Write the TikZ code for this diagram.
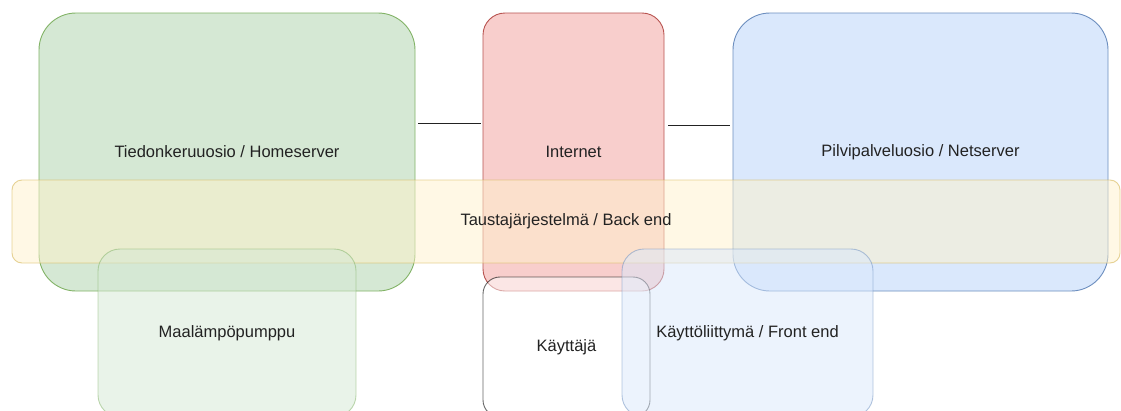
\documentclass[tikz,border=0pt]{standalone}
\usepackage{fontspec}
\setmainfont{Liberation Sans}
\definecolor{gfill}{HTML}{D5E8D4}
\definecolor{gline}{HTML}{82B366}
\definecolor{rfill}{HTML}{F8CECC}
\definecolor{rline}{HTML}{B85450}
\definecolor{bfill}{HTML}{DAE8FC}
\definecolor{bline}{HTML}{6C8EBF}
\definecolor{yfill}{HTML}{FFF2CC}
\definecolor{yline}{HTML}{D6B656}
\definecolor{txt}{HTML}{222222}
\tikzset{
  box/.style={draw, rectangle, line width=0.9pt, inner sep=0pt, text=txt,
    font=\fontsize{16.5}{19}\selectfont},
}
\begin{document}
\begin{tikzpicture}[x=1pt,y=1pt]
\useasboundingbox (0,0) rectangle (1121,-410);
\fill[white] (0,0) rectangle (1121,-410);
\node[box, fill=gfill, draw=gline, rounded corners=37pt, minimum width=376pt, minimum height=278pt] (green) at (227,-152) {Tiedonkeruuosio / Homeserver};
\node[box, fill=rfill, draw=rline, rounded corners=22pt, minimum width=181pt, minimum height=278pt] (red) at (573.5,-152) {Internet};
\node[box, fill=bfill, draw=bline, rounded corners=37pt, minimum width=375pt, minimum height=278pt] (blue) at (920.5,-152) {Pilvipalveluosio / Netserver};
\node[box, fill=yfill, draw=yline, fill opacity=0.5, draw opacity=0.6, text opacity=1, rounded corners=10pt, minimum width=1108pt, minimum height=83pt] (back) at (566,-221.5) {Taustajärjestelmä / Back end};
\node[box, fill=gfill, draw=gline, fill opacity=0.5, draw opacity=0.5, text opacity=1, rounded corners=22pt, minimum width=258pt, minimum height=168pt] (pump) at (227,-333) {Maalämpöpumppu};
\node[box, fill=white, draw=black, fill opacity=0.5, draw opacity=0.6, text opacity=1, rounded corners=17pt, minimum width=167pt, minimum height=140pt] (user) at (566.5,-347) {Käyttäjä};
\node[box, fill=bfill, draw=bline, fill opacity=0.5, draw opacity=0.5, text opacity=1, rounded corners=22pt, minimum width=251pt, minimum height=168pt] (front) at (747.5,-333) {Käyttöliittymä / Front end};
\coordinate (l1) at (0,-123);
\coordinate (l2) at (0,-125);
\draw[line width=1pt, txt] ([xshift=3pt]green.east |- l1) -- ([xshift=-2pt]red.west |- l1);
\draw[line width=1pt, txt] ([xshift=4pt]red.east |- l2) -- ([xshift=-3pt]blue.west |- l2);
\end{tikzpicture}
\end{document}
